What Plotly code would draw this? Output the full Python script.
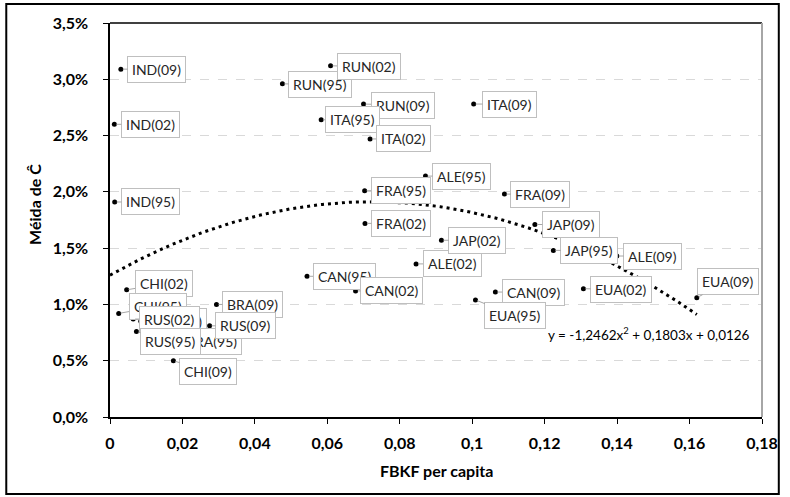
import plotly.graph_objects as go

# ---------------- data ----------------
labels = ["IND(09)", "IND(02)", "IND(95)",
          "RUN(95)", "RUN(02)", "RUN(09)",
          "ITA(95)", "ITA(02)", "ITA(09)",
          "FRA(95)", "FRA(02)", "FRA(09)",
          "ALE(95)", "ALE(02)", "ALE(09)",
          "JAP(02)", "JAP(09)", "JAP(95)",
          "CAN(95)", "CAN(02)", "CAN(09)",
          "EUA(95)", "EUA(02)", "EUA(09)",
          "CHI(02)", "CHI(95)", "CHI(09)",
          "BRA(09)", "BRA(02)", "BRA(95)",
          "RUS(02)", "RUS(95)", "RUS(09)"]
fbkf = [0.0030, 0.0012, 0.0013,
        0.0476, 0.0609, 0.0700,
        0.0583, 0.0718, 0.1004,
        0.0703, 0.0704, 0.1089,
        0.0871, 0.0845, 0.1399,
        0.0915, 0.1173, 0.1224,
        0.0544, 0.0678, 0.1064,
        0.1009, 0.1307, 0.1620,
        0.0046, 0.0024, 0.0175,
        0.0294, 0.0085, 0.0177,
        0.0064, 0.0073, 0.0275]
media_c = [0.0309, 0.0260, 0.0191,
           0.0296, 0.0312, 0.0278,
           0.0264, 0.0247, 0.0278,
           0.0201, 0.0172, 0.0198,
           0.0214, 0.0136, 0.0143,
           0.0157, 0.0171, 0.0148,
           0.0125, 0.0112, 0.0111,
           0.0104, 0.0114, 0.0106,
           0.0113, 0.0092, 0.0050,
           0.0100, 0.0085, 0.0068,
           0.0087, 0.0076, 0.0081]

# trendline given on the chart: y = -1,2462x² + 0,1803x + 0,0126
trend_coef = [-1.2462, 0.1803, 0.0126]
trend_x_end = 0.162
equation_text = "y = -1,2462x<sup>2</sup> + 0,1803x + 0,0126"

x_tickvals = [0, 0.02, 0.04, 0.06, 0.08, 0.1, 0.12, 0.14, 0.16, 0.18]
x_ticktext = ["0", "0,02", "0,04", "0,06", "0,08", "0,1", "0,12", "0,14", "0,16", "0,18"]
y_tickvals = [0, 0.005, 0.01, 0.015, 0.02, 0.025, 0.03, 0.035]

x_title = "FBKF per capita"
y_title = "Méida de Ĉ"

# label offsets (pixels) for the callouts
default_offset = (36, 0)
label_offset = {
    "EUA(95)": (40, 16), "EUA(09)": (31, -16), "CHI(02)": (37, -6),
    "CHI(95)": (39, -7), "RUS(95)": (34, 10), "CHI(09)": (35, 11),
    "ITA(95)": (31, 0), "ITA(02)": (33, 0), "RUN(95)": (38, 1),
    "RUN(02)": (38, 1), "RUN(09)": (39, 1), "CAN(09)": (38, 0),
    "EUA(02)": (38, 1), "CAN(95)": (37, 0), "BRA(95)": (37, 1),
}

FONT = "Lato, 'Open Sans', sans-serif"

# ---------------- figure ----------------
n = 200
tx = [trend_x_end * i / (n - 1) for i in range(n)]
ty = [trend_coef[0] * v * v + trend_coef[1] * v + trend_coef[2] for v in tx]

fig = go.Figure()
fig.add_trace(go.Scatter(x=tx, y=ty, mode="lines",
                         line=dict(color="black", width=3, dash="3px,4px"),
                         hoverinfo="skip", showlegend=False))
fig.add_trace(go.Scatter(x=fbkf, y=media_c, mode="markers",
                         marker=dict(color="black", size=5),
                         text=labels, showlegend=False))

annotations = []
for lab, xv, yv in zip(labels, fbkf, media_c):
    dx, dy = label_offset.get(lab, default_offset)
    annotations.append(dict(
        x=xv, y=yv, xref="x", yref="y", text=lab,
        showarrow=True, arrowhead=0, arrowwidth=1, arrowcolor="#a6a6a6",
        ax=dx, ay=dy, axref="pixel", ayref="pixel", standoff=2,
        font=dict(family=FONT, size=14, color="#262626"),
        bgcolor="white", bordercolor="#bfbfbf", borderwidth=1, borderpad=4,
    ))

# equation text
annotations.append(dict(x=0.1205, y=0.0074, xref="x", yref="y", text=equation_text,
                        showarrow=False, xanchor="left", yanchor="middle",
                        font=dict(family=FONT, size=13.5, color="black")))
# axis titles
annotations.append(dict(x=(33 - 110) / 660, y=(417 - 204) / 394, xref="paper", yref="paper",
                        text="<b>" + y_title + "</b>", textangle=-90, showarrow=False,
                        xanchor="center", yanchor="middle",
                        font=dict(family=FONT, size=16, color="black")))
annotations.append(dict(x=(440 - 110) / 660, y=(417 - 470) / 394, xref="paper", yref="paper",
                        text="<b>" + x_title + "</b>", showarrow=False,
                        xanchor="center", yanchor="middle",
                        font=dict(family=FONT, size=16, color="black")))

shapes = [
    # outer border
    dict(type="rect", xref="paper", yref="paper",
         x0=(5 - 110) / 660, x1=(787 - 110) / 660,
         y0=(417 - 494) / 394, y1=(417 - 4) / 394,
         line=dict(color="black", width=2), fillcolor="rgba(0,0,0,0)", layer="below"),
    # plot-area top and right border
    dict(type="line", xref="paper", yref="paper", x0=0, x1=1, y0=1, y1=1,
         line=dict(color="black", width=1.5)),
    dict(type="line", xref="paper", yref="paper", x0=1, x1=1, y0=0, y1=1,
         line=dict(color="#a6a6a6", width=2)),
]

fig.update_layout(
    width=790, height=497, autosize=False,
    margin=dict(l=110, r=20, t=23, b=80),
    paper_bgcolor="white", plot_bgcolor="white",
    separators=", ",
    font=dict(family=FONT, color="black"),
    annotations=annotations, shapes=shapes,
    showlegend=False,
)
fig.update_xaxes(range=[0, 0.18], tickvals=x_tickvals, ticktext=x_ticktext,
                 showgrid=False, zeroline=False,
                 showline=True, linecolor="black", linewidth=1.5,
                 ticks="outside", ticklen=5, tickcolor="black",
                 ticklabelstandoff=6, ticklabeloverflow="allow",
                 tickfont=dict(family=FONT, size=16, color="black", weight="bold"))
fig.update_yaxes(range=[0, 0.035], tickvals=y_tickvals, tickformat=".1%",
                 showgrid=True, gridcolor="#d9d9d9", griddash="dash", gridwidth=1,
                 zeroline=False,
                 showline=True, linecolor="black", linewidth=1.5,
                 ticks="outside", ticklen=5, tickcolor="black",
                 ticklabelstandoff=12,
                 tickfont=dict(family=FONT, size=16, color="black", weight="bold"))

fig.write_html("out.html",
               config={"displayModeBar": False, "responsive": False},
               default_width="790px", default_height="497px",
               post_script="document.body.style.margin='0';document.body.style.padding='0';"
                           "document.body.style.overflow='hidden';"
                           "document.documentElement.style.overflow='hidden';")
